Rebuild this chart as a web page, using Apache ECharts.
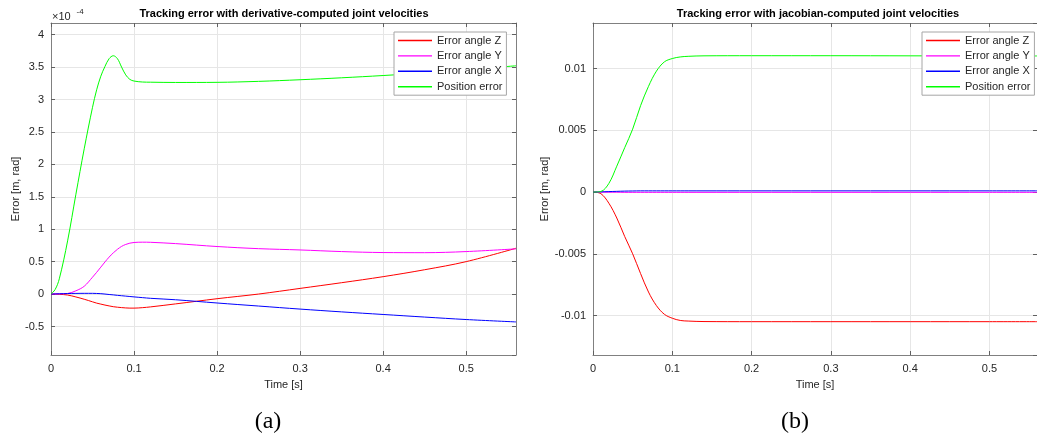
<!DOCTYPE html>
<html>
<head>
<meta charset="utf-8">
<script src="https://cdn.jsdelivr.net/npm/echarts@6/dist/echarts.min.js"></script>
<style>
  html, body { margin: 0; padding: 0; background: #fff; }
  #chart { width: 1037px; height: 439px; }
</style>
</head>
<body>
<div id="chart"></div>
<script>
// panel (a) - derivative-computed velocities, values in units of 1e-4
const timeA = [0, 0.005, 0.01, 0.02, 0.03, 0.04, 0.05, 0.055, 0.06, 0.065, 0.07, 0.075, 0.08, 0.085, 0.09, 0.095, 0.1, 0.11, 0.12, 0.15, 0.2, 0.25, 0.3, 0.35, 0.4, 0.45, 0.5, 0.56]
const angleZA = [0, -0.001, -0.004, -0.015, -0.045, -0.08, -0.12, -0.14, -0.155, -0.17, -0.183, -0.195, -0.203, -0.209, -0.214, -0.217, -0.217, -0.21, -0.198, -0.152, -0.072, 0, 0.087, 0.175, 0.268, 0.375, 0.5, 0.706]
const angleYA = [0, 0.001, 0.003, 0.009, 0.05, 0.12, 0.26, 0.335, 0.415, 0.495, 0.57, 0.635, 0.69, 0.735, 0.765, 0.785, 0.795, 0.8, 0.798, 0.778, 0.733, 0.7, 0.68, 0.655, 0.64, 0.638, 0.655, 0.697]
const angleXA = [0, 0.002, 0.004, 0.008, 0.01, 0.011, 0.011, 0.009, 0.006, 0, -0.007, -0.013, -0.02, -0.026, -0.032, -0.038, -0.044, -0.055, -0.066, -0.088, -0.138, -0.185, -0.232, -0.275, -0.315, -0.355, -0.393, -0.43]
const positionA = [0, 0.07, 0.235, 0.82, 1.54, 2.24, 2.88, 3.15, 3.36, 3.51, 3.63, 3.675, 3.63, 3.5, 3.38, 3.31, 3.285, 3.27, 3.267, 3.263, 3.265, 3.28, 3.305, 3.335, 3.37, 3.41, 3.46, 3.52]

// panel (b) - jacobian-computed velocities
const timeB = [0, 0.01, 0.02, 0.03, 0.04, 0.05, 0.06, 0.07, 0.08, 0.09, 0.1, 0.11, 0.12, 0.14, 0.2, 0.3, 0.4, 0.5, 0.56]
const angleZB = [0, -0.00013, -0.0009, -0.0021, -0.0036, -0.005, -0.0066, -0.0081, -0.0092, -0.0099, -0.01022, -0.0104, -0.01045, -0.01049, -0.0105, -0.0105, -0.0105, -0.0105, -0.0105]
const angleYB = [0, 0, -0.00001, -0.00001, -0.00002, -0.00002, -0.00002, -0.00002, -0.00002, -0.00002, -0.00002, -0.00002, -0.00002, -0.00002, -0.00002, -0.00002, -0.00002, -0.00002, -0.00002]
const angleXB = [0, 0.00002, 0.00004, 0.00006, 0.00008, 0.00009, 0.0001, 0.0001, 0.0001, 0.0001, 0.0001, 0.0001, 0.0001, 0.0001, 0.0001, 0.0001, 0.0001, 0.0001, 0.0001]
const positionB = [0, 0.00005, 0.0007, 0.0021, 0.0036, 0.0051, 0.007, 0.00857, 0.0098, 0.01055, 0.01082, 0.01095, 0.011, 0.01104, 0.01105, 0.01105, 0.01104, 0.01103, 0.01103]

const seriesNames = ['Error angle Z', 'Error angle Y', 'Error angle X', 'Position error']
const seriesColors = ['#ff0000', '#ff00ff', '#0000ff', '#00ff00']

const font = 'Liberation Sans, Arial, sans-serif'
const textColor = '#262626'

function zip(t, v) {
    return t.map((x, i) => [x, v[i]])
}

const frameLine = { show: true, onZero: false, lineStyle: { color: '#808080', width: 1 } }
const innerTick = { show: true, inside: true, length: 4, lineStyle: { color: '#606060' } }

function mainX(gridIndex) {
    return {
        type: 'value', gridIndex, position: 'bottom',
        min: 0, max: 0.56, interval: 0.1,
        name: 'Time [s]', nameLocation: 'middle', nameGap: 24,
        nameTextStyle: { fontFamily: font, fontSize: 11, color: textColor },
        axisLine: frameLine,
        axisTick: innerTick,
        axisLabel: { fontFamily: font, fontSize: 11, color: textColor, margin: 8, showMaxLabel: false },
        splitLine: { show: true, lineStyle: { color: '#e6e6e6', width: 1 } }
    }
}

function topX(gridIndex) {
    return {
        type: 'value', gridIndex, position: 'top',
        min: 0, max: 0.56, interval: 0.1,
        axisLine: frameLine,
        axisTick: innerTick,
        axisLabel: { show: false },
        splitLine: { show: false }
    }
}

function mainY(gridIndex, min, max, split, gap) {
    return {
        type: 'value', gridIndex, position: 'left',
        min, max, splitNumber: split,
        name: 'Error [m, rad]', nameLocation: 'middle', nameGap: gap,
        nameTextStyle: { fontFamily: font, fontSize: 11, color: textColor },
        axisLine: frameLine,
        axisTick: innerTick,
        axisLabel: { fontFamily: font, fontSize: 11, color: textColor, margin: 7, showMinLabel: false, showMaxLabel: false },
        splitLine: { show: true, lineStyle: { color: '#e6e6e6', width: 1 } }
    }
}

function rightY(gridIndex, min, max, split) {
    return {
        type: 'value', gridIndex, position: 'right',
        min, max, splitNumber: split,
        axisLine: frameLine,
        axisTick: innerTick,
        axisLabel: { show: false },
        splitLine: { show: false }
    }
}

function legendAt(left) {
    return {
        orient: 'vertical', left, top: 32,
        backgroundColor: '#fff', borderColor: '#a6a6a6', borderWidth: 1,
        padding: [2, 4, 2, 4], itemGap: 2.4, itemWidth: 34, itemHeight: 1.4,
        icon: 'rect',
        textStyle: { fontFamily: font, fontSize: 11, color: textColor, lineHeight: 13 },
        data: seriesNames
    }
}

function lineSeries(name, color, data, axis) {
    return {
        name, type: 'line', data, xAxisIndex: axis, yAxisIndex: axis,
        symbol: 'none', smooth: 0.35,
        lineStyle: { color, width: 1 }, itemStyle: { color },
        animation: false
    }
}

const panelA = [angleZA, angleYA, angleXA, positionA]
const panelB = [angleZB, angleYB, angleXB, positionB]

let seriesData = []
seriesNames.forEach((name, i) => {
    seriesData.push(lineSeries(name, seriesColors[i], zip(timeA, panelA[i]), 0))
})
seriesNames.forEach((name, i) => {
    seriesData.push(lineSeries(name, seriesColors[i], zip(timeB, panelB[i]), 2))
})

let myChart = echarts.init(document.getElementById('chart'))

let option = {
    backgroundColor: '#fff',
    animation: false,
    grid: [
        { left: 51, top: 23, width: 465, height: 332 },
        { left: 593, top: 23, width: 450, height: 332 }
    ],
    xAxis: [mainX(0), topX(0), mainX(1), topX(1)],
    yAxis: [
        mainY(0, -0.94, 4.18, 10, 30),
        rightY(0, -0.94, 4.18, 10),
        mainY(1, -0.0132, 0.0137, 5, 42),
        rightY(1, -0.0132, 0.0137, 5)
    ],
    legend: [legendAt(394), legendAt(922)],
    graphic: [
        { type: 'text', x: 284, y: 14, style: { text: 'Tracking error with derivative-computed joint velocities', font: 'bold 11px ' + font, fill: '#000', textAlign: 'center', textVerticalAlign: 'middle' } },
        { type: 'text', x: 818, y: 14, style: { text: 'Tracking error with jacobian-computed joint velocities', font: 'bold 11px ' + font, fill: '#000', textAlign: 'center', textVerticalAlign: 'middle' } },
        { type: 'text', x: 52, y: 17, style: { text: '×10', font: '11px ' + font, fill: textColor, textAlign: 'left', textVerticalAlign: 'middle' } },
        { type: 'text', x: 76.5, y: 12, style: { text: '-4', font: '8px ' + font, fill: textColor, textAlign: 'left', textVerticalAlign: 'middle' } },
        { type: 'text', x: 268, y: 422, style: { text: '(a)', font: '24px Liberation Serif, serif', fill: '#000', textAlign: 'center', textVerticalAlign: 'middle' } },
        { type: 'text', x: 795, y: 422, style: { text: '(b)', font: '24px Liberation Serif, serif', fill: '#000', textAlign: 'center', textVerticalAlign: 'middle' } }
    ],
    series: seriesData
}

myChart.setOption(option, true)
</script>
</body>
</html>
